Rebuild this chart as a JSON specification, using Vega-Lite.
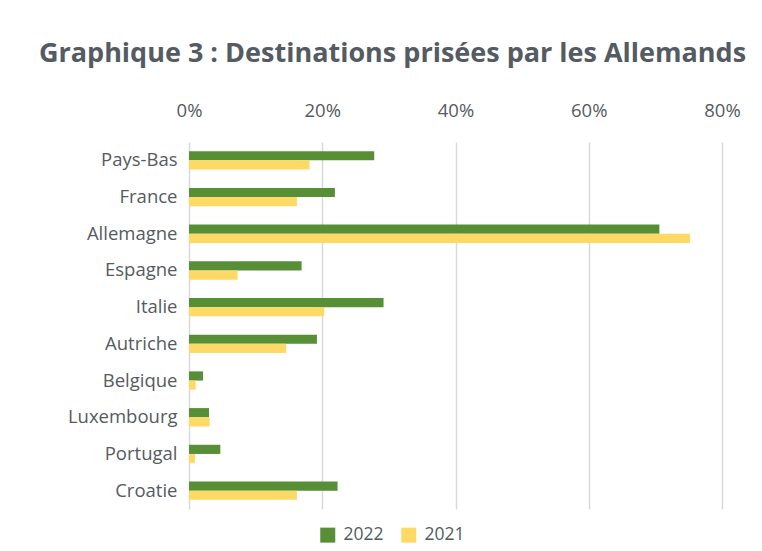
{
  "$schema": "https://vega.github.io/schema/vega-lite/v6.json",
  "autosize": "none",
  "width": 533,
  "height": 367,
  "padding": {"left": 189, "top": 142, "right": 40, "bottom": 42},
  "background": "white",
  "title": {
    "text": "Graphique 3 : Destinations prisées par les Allemands",
    "font": "Open Sans",
    "fontSize": 27,
    "fontWeight": "bold",
    "color": "#555b62",
    "anchor": "middle",
    "dx": -63,
    "offset": 33
  },
  "data": {
    "values": [
      {"pays": "Pays-Bas", "annee": "2022", "part": 27.8},
      {"pays": "Pays-Bas", "annee": "2021", "part": 18.1},
      {"pays": "France", "annee": "2022", "part": 21.9},
      {"pays": "France", "annee": "2021", "part": 16.2},
      {"pays": "Allemagne", "annee": "2022", "part": 70.6},
      {"pays": "Allemagne", "annee": "2021", "part": 75.2},
      {"pays": "Espagne", "annee": "2022", "part": 16.9},
      {"pays": "Espagne", "annee": "2021", "part": 7.3},
      {"pays": "Italie", "annee": "2022", "part": 29.2},
      {"pays": "Italie", "annee": "2021", "part": 20.3},
      {"pays": "Autriche", "annee": "2022", "part": 19.2},
      {"pays": "Autriche", "annee": "2021", "part": 14.6},
      {"pays": "Belgique", "annee": "2022", "part": 2.1},
      {"pays": "Belgique", "annee": "2021", "part": 1.0},
      {"pays": "Luxembourg", "annee": "2022", "part": 3.0},
      {"pays": "Luxembourg", "annee": "2021", "part": 3.1},
      {"pays": "Portugal", "annee": "2022", "part": 4.7},
      {"pays": "Portugal", "annee": "2021", "part": 0.9},
      {"pays": "Croatie", "annee": "2022", "part": 22.3},
      {"pays": "Croatie", "annee": "2021", "part": 16.2}
    ]
  },
  "mark": {"type": "bar", "cornerRadius": 0},
  "encoding": {
    "y": {
      "field": "pays",
      "type": "nominal",
      "sort": ["Pays-Bas", "France", "Allemagne", "Espagne", "Italie", "Autriche", "Belgique", "Luxembourg", "Portugal", "Croatie"],
      "scale": {"paddingInner": 0.5, "paddingOuter": 0.25},
      "axis": {
        "title": null,
        "ticks": false,
        "domain": false,
        "labelPadding": 12,
        "labelFont": "Open Sans",
        "labelFontSize": 18.5,
        "labelColor": "#555b62"
      }
    },
    "yOffset": {
      "field": "annee",
      "type": "nominal",
      "sort": ["2022", "2021"],
      "scale": {"paddingInner": 0, "paddingOuter": 0}
    },
    "x": {
      "field": "part",
      "type": "quantitative",
      "scale": {"domain": [0, 80], "nice": false},
      "axis": {
        "orient": "top",
        "title": null,
        "values": [0, 20, 40, 60, 80],
        "labelExpr": "datum.value + '%'",
        "labelFlush": false,
        "labelBound": false,
        "ticks": false,
        "domain": false,
        "labelPadding": 22,
        "labelFont": "Open Sans",
        "labelFontSize": 18.5,
        "labelColor": "#555b62",
        "gridColor": "#d9d9d9",
        "gridWidth": 1.5
      }
    },
    "color": {
      "field": "annee",
      "type": "nominal",
      "sort": ["2022", "2021"],
      "scale": {"domain": ["2022", "2021"], "range": ["#578f37", "#ffd966"]},
      "legend": {
        "title": null,
        "orient": "none",
        "direction": "horizontal",
        "legendX": 130,
        "legendY": 384,
        "symbolType": "square",
        "symbolSize": 225,
        "symbolStrokeWidth": 0,
        "labelFont": "Open Sans",
        "labelFontSize": 17.5,
        "labelColor": "#555b62",
        "columnPadding": 16,
        "labelOffset": 7
      }
    }
  },
  "config": {
    "view": {"stroke": null}
  }
}
